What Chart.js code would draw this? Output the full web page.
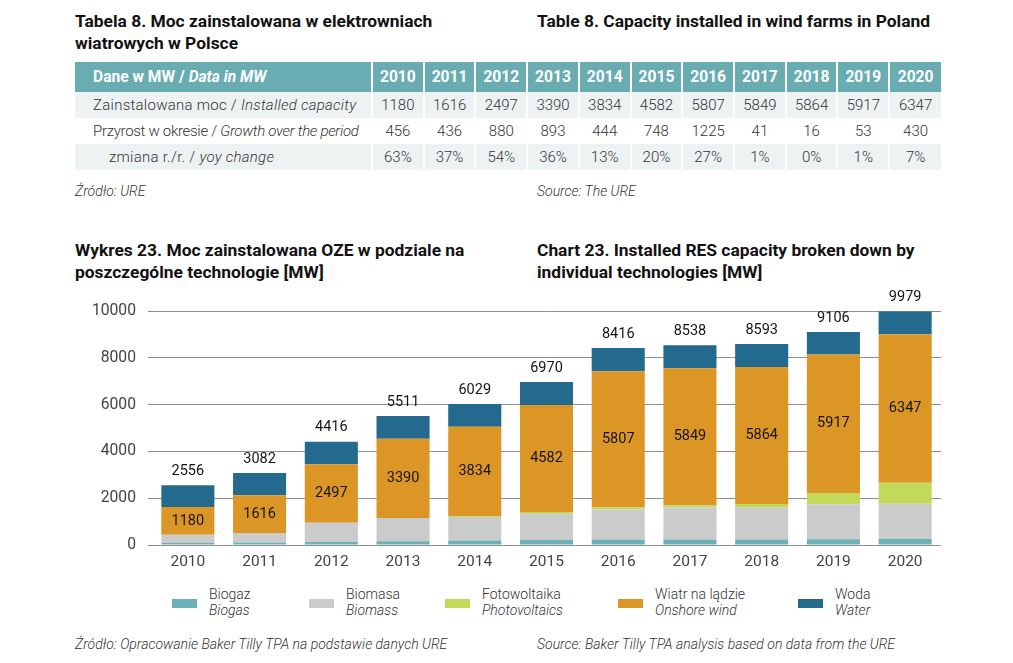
<!DOCTYPE html>
<html>
<head>
<meta charset="utf-8">
<script src="https://cdn.jsdelivr.net/npm/chart.js@4"></script>
<style>
  html, body { margin: 0; padding: 0; background: #fff; }
  body { width: 1013px; height: 663px; position: relative; overflow: hidden; font-family: Roboto, sans-serif; color: #222; }
  .title { position: absolute; font-weight: 700; font-size: 17.4px; line-height: 22px; color: #111; }
  .src { position: absolute; font-style: italic; font-weight: 300; font-size: 14px; color: #333; }
  table { position: absolute; left: 75px; top: 62px; border-collapse: collapse; table-layout: fixed; width: 866px; }
  th { background: #69adb3; color: #fff; font-weight: 700; font-size: 15.6px; height: 30px; padding: 0; text-align: center; border-left: 2px solid #fff; white-space: nowrap; }
  td { font-weight: 300; font-size: 15px; color: #333; height: 26px; padding: 0; text-align: center; border-left: 2px solid #fff; white-space: nowrap; }
  th:first-child, td:first-child { border-left: none; text-align: left; padding-left: 18px; }
  td:first-child { letter-spacing: 0.25px; }
  td.tight { letter-spacing: -0.3px; }
  tr.shade td { background: #edf3f3; }
  #chartBox { position: absolute; left: 60px; top: 285px; width: 890px; height: 290px; }
  .leg { position: absolute; top: 586px; font-size: 14px; font-weight: 300; color: #333; line-height: 16px; }
  .leg i { font-style: italic; }
  .sw { position: absolute; width: 25px; height: 9px; top: 13px; }
</style>
</head>
<body>
<div class="title" style="left:75px; top:10px;">Tabela 8. Moc zainstalowana w elektrowniach<br>wiatrowych w Polsce</div>
<div class="title" style="left:537px; top:10px;">Table 8. Capacity installed in wind farms in Poland</div>

<table id="tbl"></table>

<div class="src" style="left:75px; top:183px;">Źródło: URE</div>
<div class="src" style="left:537px; top:183px;">Source: The URE</div>

<div class="title" style="left:75px; top:239px;">Wykres 23. Moc zainstalowana OZE w podziale na<br>poszczególne technologie [MW]</div>
<div class="title" style="left:537px; top:239px;">Chart 23. Installed RES capacity broken down by<br>individual technologies [MW]</div>

<div id="chartBox"><canvas id="resChart"></canvas></div>
<div id="legend"></div>

<div class="src" style="left:75px; top:636px;">Źródło: Opracowanie Baker Tilly TPA na podstawie danych URE</div>
<div class="src" style="left:537px; top:636px;">Source: Baker Tilly TPA analysis based on data from the URE</div>

<script>
// table data
const tableYears = ["2010", "2011", "2012", "2013", "2014", "2015", "2016", "2017", "2018", "2019", "2020"];
const installedCapacity = [1180, 1616, 2497, 3390, 3834, 4582, 5807, 5849, 5864, 5917, 6347];
const growth = [456, 436, 880, 893, 444, 748, 1225, 41, 16, 53, 430];
const yoyChange = ["63%", "37%", "54%", "36%", "13%", "20%", "27%", "1%", "0%", "1%", "7%"];

// chart data [MW]
const years = ["2010", "2011", "2012", "2013", "2014", "2015", "2016", "2017", "2018", "2019", "2020"];
const biogas = [83, 104, 132, 162, 189, 213, 235, 237, 239, 245, 255];
const biomass = [356, 410, 821, 987, 1008, 1122, 1281, 1362, 1362, 1496, 1507];
const photovoltaics = [0, 1, 1, 2, 21, 71, 99, 102, 146, 479, 894];
const onshoreWind = [1180, 1616, 2497, 3390, 3834, 4582, 5807, 5849, 5864, 5917, 6347];
const water = [937, 951, 965, 970, 977, 982, 994, 988, 982, 969, 976];
const totals = [2556, 3082, 4416, 5511, 6029, 6970, 8416, 8538, 8593, 9106, 9979];
const yTicks = [0, 2000, 4000, 6000, 8000, 10000];

const series = [
  { pl: "Biogaz", en: "Biogas", data: biogas, color: "#6cb1b7", x: 172 },
  { pl: "Biomasa", en: "Biomass", data: biomass, color: "#cbcbcb", x: 309 },
  { pl: "Fotowoltaika", en: "Photovoltaics", data: photovoltaics, color: "#c3d95b", x: 445 },
  { pl: "Wiatr na lądzie", en: "Onshore wind", data: onshoreWind, color: "#dc9626", x: 618 },
  { pl: "Woda", en: "Water", data: water, color: "#246a8f", x: 798 }
];

function buildTable() {
  const rows = [];
  rows.push(`<tr><th>Dane w MW / <i>Data in MW</i></th>${tableYears.map(y => `<th>${y}</th>`).join("")}</tr>`);
  rows.push(`<tr class="shade"><td>Zainstalowana moc / <i>Installed capacity</i></td>${installedCapacity.map(v => `<td>${v}</td>`).join("")}</tr>`);
  rows.push(`<tr><td class="tight">Przyrost w okresie / <i>Growth over the period</i></td>${growth.map(v => `<td>${v}</td>`).join("")}</tr>`);
  rows.push(`<tr class="shade"><td style="padding-left:34px">zmiana r./r. / <i>yoy change</i></td>${yoyChange.map(v => `<td>${v}</td>`).join("")}</tr>`);
  const tbl = document.getElementById("tbl");
  tbl.innerHTML = `<colgroup><col style="width:297px">${tableYears.map(() => `<col>`).join("")}</colgroup>` + rows.join("");
}

function buildLegend() {
  document.getElementById("legend").innerHTML = series.map(s =>
    `<div class="leg" style="left:${s.x}px"><span class="sw" style="left:0;background:${s.color}"></span>` +
    `<div style="margin-left:37px">${s.pl}<br><i>${s.en}</i></div></div>`
  ).join("");
}

// wind value inside its segment, total above the bar
const valueLabels = {
  id: "valueLabels",
  afterDatasetsDraw(chart) {
    const ctx = chart.ctx;
    const windMeta = chart.getDatasetMeta(3);
    const topMeta = chart.getDatasetMeta(4);
    ctx.save();
    ctx.font = "14.5px Roboto";
    ctx.fillStyle = "#151515";
    ctx.textAlign = "center";
    ctx.textBaseline = "middle";
    windMeta.data.forEach((bar, i) => {
      ctx.fillText(onshoreWind[i], bar.x, (bar.y + bar.base) / 2);
      const top = topMeta.data[i];
      ctx.fillText(totals[i], top.x, top.y - 14);
    });
    ctx.restore();
  }
};

function initializeChart() {
  Chart.defaults.font.family = "Roboto";
  const ctx = document.getElementById("resChart").getContext("2d");
  new Chart(ctx, {
    type: "bar",
    data: {
      labels: years,
      datasets: series.map(s => ({
        label: s.en,
        data: s.data,
        backgroundColor: s.color,
        borderWidth: 0,
        barPercentage: 0.74,
        categoryPercentage: 1
      }))
    },
    options: {
      responsive: true,
      maintainAspectRatio: false,
      animation: false,
      layout: { padding: { top: 26, right: 9, left: 0, bottom: 0 } },
      plugins: { legend: { display: false }, tooltip: { enabled: false } },
      scales: {
        x: {
          stacked: true,
          grid: { display: false, drawTicks: false },
          border: { display: false },
          ticks: { color: "#444", font: { size: 15.5 }, padding: 8 },
          afterFit: axis => { axis.height = 30; }
        },
        y: {
          stacked: true,
          min: 0,
          max: 10000,
          afterBuildTicks: axis => { axis.ticks = yTicks.map(v => ({ value: v })); },
          grid: { color: "#8f8f8f", lineWidth: 1, drawTicks: true, tickLength: 4 },
          border: { display: false },
          ticks: { color: "#444", font: { size: 15.7 }, padding: 12, callback: v => String(v) },
          afterFit: axis => { axis.width = 92; }
        }
      }
    },
    plugins: [valueLabels]
  });
}

document.addEventListener("DOMContentLoaded", () => {
  buildTable();
  buildLegend();
  initializeChart();
});
</script>
</body>
</html>
